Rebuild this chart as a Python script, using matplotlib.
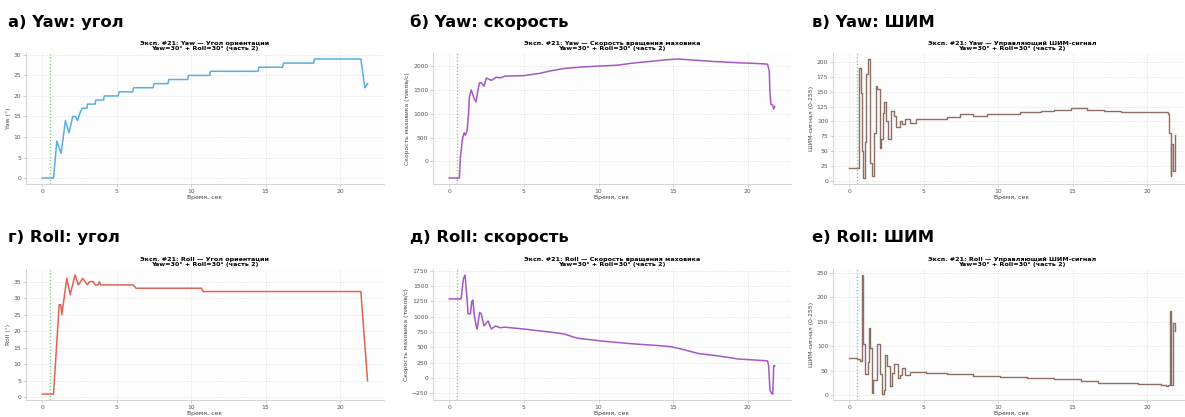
import matplotlib
matplotlib.use("Agg")
import matplotlib.pyplot as plt

plt.rcParams['font.family'] = ['DejaVu Sans']

# ---------------- data ----------------
yaw_ang_t = [0, 0.76, 0.98, 1.27, 1.56, 1.8, 2.05, 2.23, 2.37, 2.55, 2.68, 3.0, 3.04, 3.55, 3.6,
             4.12, 4.17, 5.1, 5.16, 6.08, 6.14, 7.45, 7.5, 8.45, 8.5, 9.77, 9.82, 11.25, 11.3,
             14.5, 14.55, 16.15, 16.2, 18.23, 18.28, 21.4, 21.67, 21.85]
yaw_ang_v = [0, 0, 9, 6, 14, 11, 15, 15, 14, 16, 17, 17, 18, 18, 19,
             19, 20, 20, 21, 21, 22, 22, 23, 23, 24, 24, 25, 25, 26,
             26, 27, 27, 28, 28, 29, 29, 22, 23]

roll_ang_t = [0, 0.76, 1.14, 1.25, 1.32, 1.65, 1.88, 2.2, 2.43, 2.72, 3.04, 3.17, 3.44, 3.55,
              3.75, 3.84, 3.93, 6.12, 6.3, 10.7, 10.8, 21.4, 21.85]
roll_ang_v = [1, 1, 28, 28, 25, 36, 31, 37, 34, 36, 34, 35, 35, 34,
              34, 35, 34, 34, 33, 33, 32, 32, 5]

yaw_spd_t = [0, 0.68, 0.75, 0.9, 1.0, 1.08, 1.2, 1.29, 1.35, 1.47, 1.58, 1.69, 1.8, 1.92, 2.03,
             2.14, 2.33, 2.48, 2.7, 2.82, 3.16, 3.39, 3.72, 4.97, 6.1, 6.77, 7.67, 8.8, 9.93,
             11.3, 12.2, 13.5, 14.4, 15.35, 16.25, 17.6, 19.4, 20.99, 21.33, 21.44, 21.49,
             21.55, 21.67, 21.74, 21.8]
yaw_spd_v = [-350, -350, 100, 500, 600, 550, 650, 1000, 1350, 1500, 1400, 1300, 1250, 1500, 1650,
             1650, 1580, 1750, 1720, 1700, 1770, 1750, 1790, 1800, 1850, 1900, 1950, 1980, 2000,
             2020, 2060, 2100, 2130, 2150, 2130, 2100, 2070, 2050, 2040, 1900, 1450,
             1200, 1180, 1100, 1150]

roll_spd_t = [0, 0.79, 0.95, 1.06, 1.17, 1.26, 1.42, 1.51, 1.58, 1.69, 1.8, 1.87, 2.03, 2.14,
              2.33, 2.48, 2.6, 2.82, 3.1, 3.39, 3.72, 4.97, 6.77, 7.67, 8.58, 10.38, 12.2,
              13.99, 14.9, 15.6, 16.7, 18.06, 19.4, 20.77, 21.33, 21.4, 21.49, 21.6, 21.68,
              21.74, 21.8]
roll_spd_v = [1290, 1290, 1620, 1680, 1350, 1050, 1050, 1250, 1270, 1000, 850, 800, 1070, 1050,
              850, 900, 930, 800, 850, 820, 830, 800, 750, 720, 650, 600, 560,
              530, 510, 470, 400, 360, 310, 290, 280, 200, -200, -250, -260,
              200, 200]

yaw_pwm_t = [0, 0.55, 0.63, 0.79, 0.86, 0.95, 1.06, 1.15, 1.24, 1.4, 1.53, 1.69, 1.76, 1.87,
             2.03, 2.14, 2.25, 2.36, 2.45, 2.59, 2.82, 2.97, 3.15, 3.38, 3.55, 3.72, 4.05, 4.5,
             5.4, 6.53, 7.43, 8.33, 9.23, 10.36, 11.49, 12.84, 13.74, 14.86, 15.99, 17.1,
             18.24, 20.5, 21.4, 21.5, 21.58, 21.62, 21.73, 21.85]
yaw_pwm_v = [22, 22, 190, 148, 50, 5, 65, 180, 205, 30, 8, 80, 160, 155,
             55, 70, 115, 133, 100, 70, 118, 110, 90, 100, 95, 105, 98, 105,
             104, 108, 112, 110, 112, 113, 116, 118, 120, 122, 120, 117,
             116, 116, 113, 80, 8, 63, 17, 78]

roll_pwm_t = [0, 0.5, 0.75, 0.83, 0.95, 1.04, 1.22, 1.28, 1.35, 1.42, 1.51, 1.62, 1.75, 1.85,
              2.0, 2.09, 2.18, 2.3, 2.41, 2.52, 2.75, 2.84, 2.97, 3.15, 3.27, 3.4, 3.56, 3.74,
              4.05, 5.18, 6.53, 7.43, 8.33, 10.14, 11.94, 13.74, 14.64, 15.54, 16.67, 18.24,
              19.37, 20.95, 21.29, 21.4, 21.55, 21.62, 21.73, 21.85]
roll_pwm_v = [75, 74, 70, 245, 105, 42, 42, 68, 137, 95, 4, 30, 30, 104,
              104, 42, 2, 10, 82, 60, 18, 45, 63, 63, 35, 40, 55, 40,
              48, 45, 43, 42, 38, 37, 34, 33, 32, 28, 25, 24,
              22, 20, 18, 20, 172, 20, 148, 130]

panel_labels = ["а) Yaw: угол", "б) Yaw: скорость", "в) Yaw: ШИМ",
                "г) Roll: угол", "д) Roll: скорость", "е) Roll: ШИМ"]
titles = ["Эксп. #21: Yaw — Угол ориентации",
          "Эксп. #21: Yaw — Скорость вращения маховика",
          "Эксп. #21: Yaw — Управляющий ШИМ-сигнал",
          "Эксп. #21: Roll — Угол ориентации",
          "Эксп. #21: Roll — Скорость вращения маховика",
          "Эксп. #21: Roll — Управляющий ШИМ-сигнал"]
subtitle = "Yaw=30° + Roll=30° (часть 2)"
ylabels = ["Yaw (°)", "Скорость маховика (тиков/с)", "ШИМ-сигнал (0-255)",
           "Roll (°)", "Скорость маховика (тиков/с)", "ШИМ-сигнал (0-255)"]
xlabel = "Время, сек"
start_time = 0.5

series = [(yaw_ang_t, yaw_ang_v), (yaw_spd_t, yaw_spd_v), (yaw_pwm_t, yaw_pwm_v),
          (roll_ang_t, roll_ang_v), (roll_spd_t, roll_spd_v), (roll_pwm_t, roll_pwm_v)]
colors = ['#5aaee0', '#a657c4', '#8d6e63', '#e06355', '#a657c4', '#8d6e63']
steps = [False, False, True, False, False, True]

# ---------------- figure ----------------
fig = plt.figure(figsize=(11.85, 4.17), dpi=100)

lefts = [0.0219, 0.3654, 0.703]
bottoms = [0.5588, 0.0408]
w, h = 0.302, 0.314
label_x = [0.0068, 0.346, 0.685]
label_y = [0.936, 0.420]

for i in range(6):
    r, c = divmod(i, 3)
    ax = fig.add_axes([lefts[c], bottoms[r], w, h])
    ax.set_facecolor('#fdfdfd')
    t, v = series[i]
    if steps[i]:
        ax.plot(t, v, color=colors[i], lw=1.0, drawstyle='steps-post')
    else:
        ax.plot(t, v, color=colors[i], lw=1.1)
    ax.axvline(start_time, color='#5cb85c', ls=':', lw=0.9, alpha=0.8)
    ax.set_title(titles[i] + "\n" + subtitle, fontsize=4.6, fontweight='bold', pad=2,
                 linespacing=1.1)
    ax.set_xlabel(xlabel, fontsize=4.4, color='#444444', labelpad=1)
    ax.set_ylabel(ylabels[i], fontsize=4.4, color='#444444', labelpad=2)
    ax.tick_params(labelsize=4.3, labelcolor='#555555', length=2, width=0.5,
                   color='#bbbbbb', pad=1.5)
    ax.grid(True, ls=':', lw=0.5, color='#d5d5d5')
    for s in ['top', 'right']:
        ax.spines[s].set_visible(False)
    for s in ['left', 'bottom']:
        ax.spines[s].set_color('#cccccc')
        ax.spines[s].set_linewidth(0.6)
    fig.text(label_x[c], label_y[r], panel_labels[i], fontsize=11.8, fontweight='bold',
             ha='left', va='baseline')

fig.savefig("out.png", dpi=100)
